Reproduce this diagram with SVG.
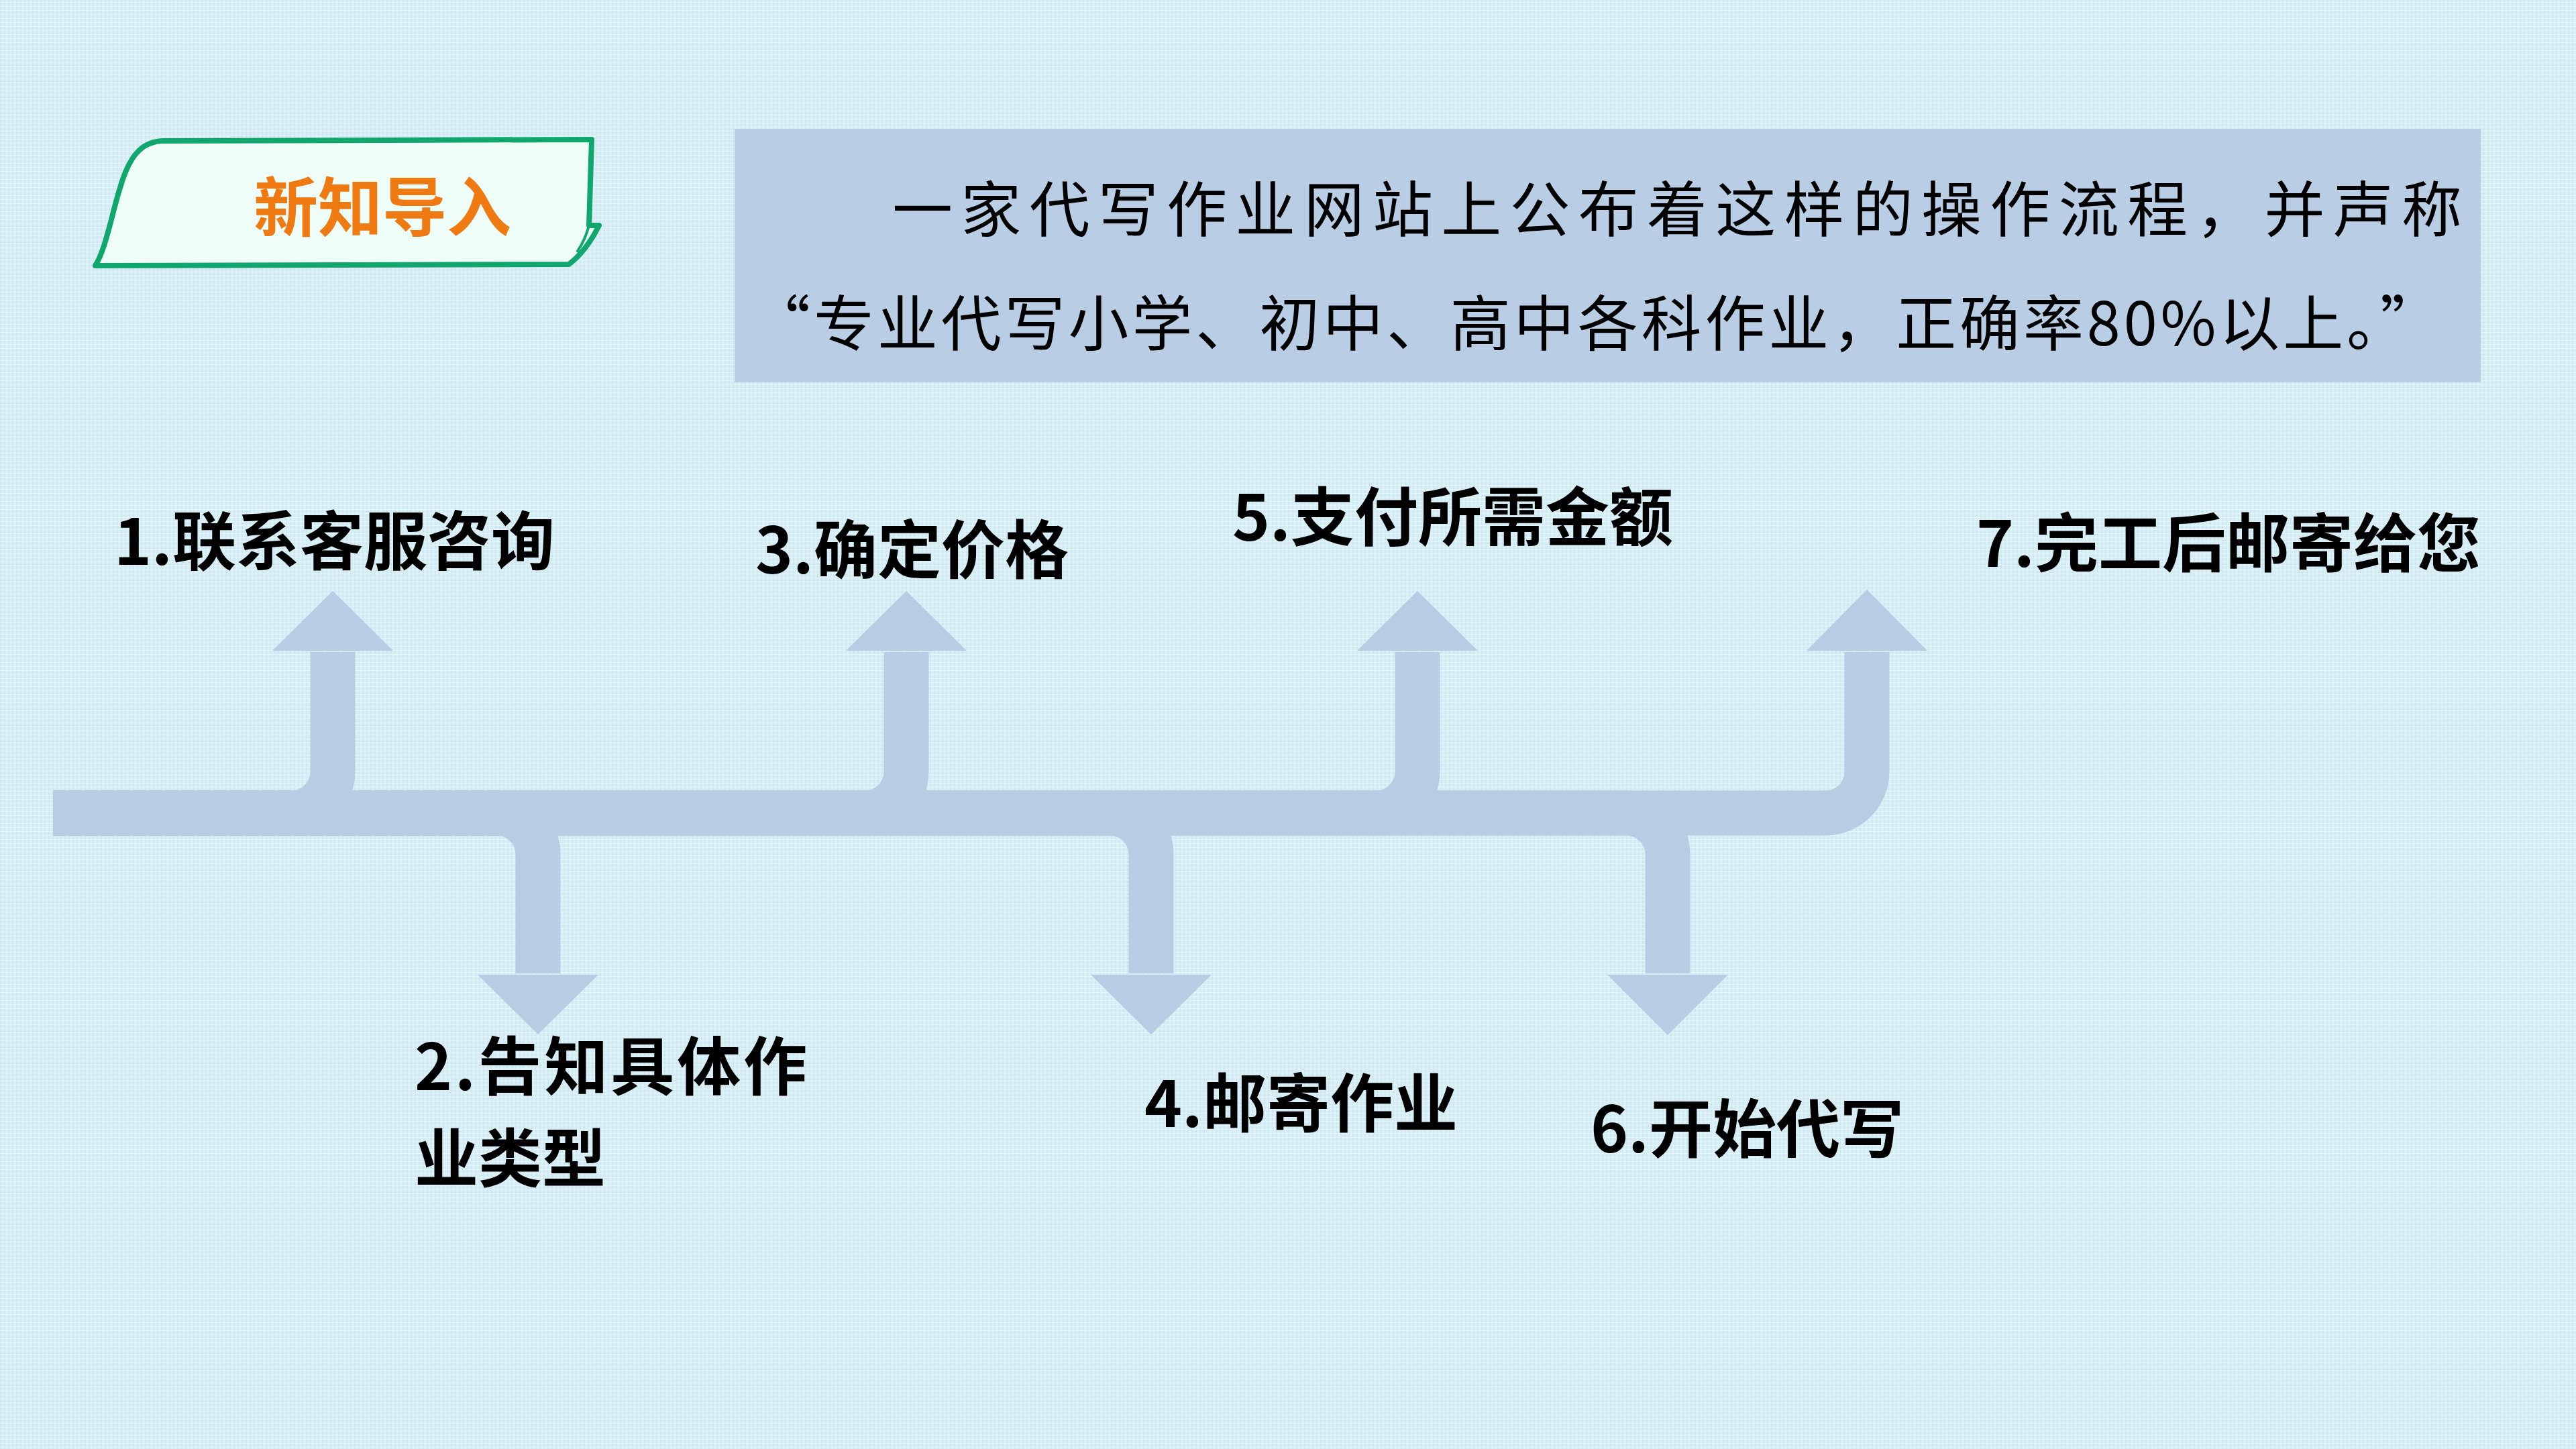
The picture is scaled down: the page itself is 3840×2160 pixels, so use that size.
<svg xmlns="http://www.w3.org/2000/svg" width="3840" height="2160" viewBox="0 0 3840 2160">
<defs>
<style>
.conn{fill:none;stroke:#B8CCE4;stroke-width:67}
.head{fill:#B8CCE4}
.lbl{font-family:"Noto Sans CJK SC","Noto Sans",sans-serif;font-weight:bold;font-size:95px;fill:#000}
.para{font-family:"Noto Sans CJK SC","Noto Sans",sans-serif;font-size:90px;fill:#000}
</style>
<pattern id="tex" width="6" height="6" patternUnits="userSpaceOnUse">
<rect width="6" height="6" fill="#D8EFF6"/>
<rect x="0" y="0" width="2" height="6" fill="#CFE7F1"/>
<rect x="0" y="3" width="6" height="1" fill="#E3F6FB"/>
</pattern>
</defs>
<rect width="3840" height="2160" fill="url(#tex)"/>

<g id="title-tab">
<path d="M 142 396 C 160 368, 170 300, 185 262 C 196 232, 212 210, 245 210 L 882 208 L 878 336 L 893 336 C 880 362, 864 382, 848 394 Z" fill="#EFFDF8" stroke="#10A66D" stroke-width="8" stroke-linejoin="round"/>
<path d="M 878 336 C 874 352, 868 364, 860 376" fill="none" stroke="#10A66D" stroke-width="4"/>
<text x="378" y="344" font-family="'Noto Sans CJK SC','Noto Sans',sans-serif" font-weight="bold" font-size="96" fill="#F07A12">新知导入</text>
</g>

<g id="intro-box">
<rect x="1095" y="192" width="2603" height="378" fill="#B9CDE5"/>
<text class="para" x="1330" y="345" textLength="2340" lengthAdjust="spacing">一家代写作业网站上公布着这样的操作流程，并声称</text>
<text class="para" x="1118" y="515" textLength="2520" lengthAdjust="spacing">“专业代写小学、初中、高中各科作业，正确率80%以上。”</text>
</g>

<g id="connectors">
<path class="conn" d="M 79 1212 H 434 A 62 62 0 0 0 496 1150 V 972"/>
<path class="conn" d="M 79 1212 H 740 A 62 62 0 0 1 802 1274 V 1451"/>
<path class="conn" d="M 79 1212 H 1289 A 62 62 0 0 0 1351 1150 V 972"/>
<path class="conn" d="M 79 1212 H 1654 A 62 62 0 0 1 1716 1274 V 1451"/>
<path class="conn" d="M 79 1212 H 2051 A 62 62 0 0 0 2113 1150 V 972"/>
<path class="conn" d="M 79 1212 H 2424 A 62 62 0 0 1 2486 1274 V 1451"/>
<path class="conn" d="M 79 1212 H 2721 A 62 62 0 0 0 2783 1150 V 972"/>
<polygon class="head" points="406,970 586,970 496,881"/>
<polygon class="head" points="1261,970 1441,970 1351,881"/>
<polygon class="head" points="2023,970 2203,970 2113,881"/>
<polygon class="head" points="2693,970 2873,970 2783,879"/>
<polygon class="head" points="712,1453 892,1453 802,1542"/>
<polygon class="head" points="1626,1453 1806,1453 1716,1542"/>
<polygon class="head" points="2396,1453 2576,1453 2486,1543"/>
</g>

<g id="step1"><text class="lbl" x="170" y="842">1.联系客服咨询</text></g>
<g id="step2"><text class="lbl" x="618" y="1625" textLength="585" lengthAdjust="spacing">2.告知具体作</text><text class="lbl" x="618" y="1762">业类型</text></g>
<g id="step3"><text class="lbl" x="1126" y="855">3.确定价格</text></g>
<g id="step4"><text class="lbl" x="1706" y="1680">4.邮寄作业</text></g>
<g id="step5"><text class="lbl" x="1837" y="806">5.支付所需金额</text></g>
<g id="step6"><text class="lbl" x="2371" y="1718">6.开始代写</text></g>
<g id="step7"><text class="lbl" x="2946" y="845">7.完工后邮寄给您</text></g>
</svg>
